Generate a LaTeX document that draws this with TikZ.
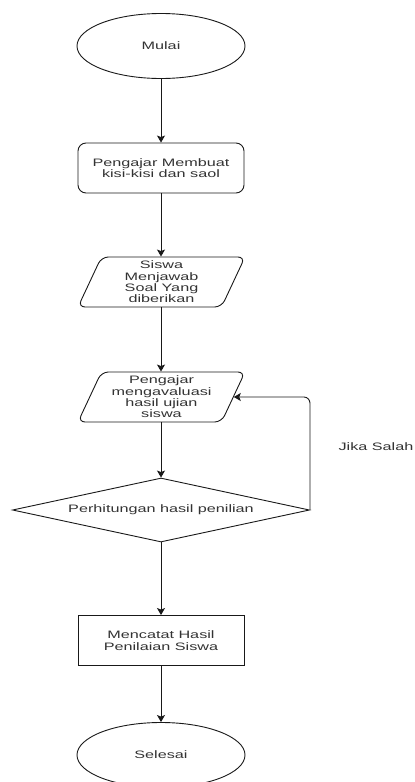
\documentclass[tikz,border=0pt]{standalone}
\usepackage{fontspec}
\setmainfont{Liberation Sans}[FakeStretch=1.5]
\usetikzlibrary{shapes.geometric,arrows.meta}
\definecolor{txt}{HTML}{333333}
\begin{document}
\begin{tikzpicture}[x=1pt,y=1pt,
  every node/.style={font=\fontsize{10.8}{11.3}\selectfont, text=txt, align=center},
  shp/.style={draw=black!90, line width=0.9pt},
  term/.style={shp, ellipse, minimum width=168pt, minimum height=65pt, inner sep=0pt},
  proc/.style={shp, rectangle, minimum width=166pt, minimum height=50pt, inner sep=0pt},
  rproc/.style={proc, rounded corners=8pt},
  io/.style={shp, trapezium, trapezium left angle=60.75, trapezium right angle=119.25,
    trapezium stretches body, minimum width=167pt, minimum height=50pt, inner sep=0pt, rounded corners=7pt},
  dec/.style={shp, diamond, minimum width=297pt, minimum height=64pt, inner sep=0pt, aspect=4.64},
  arr/.style={draw=black!90, line width=0.9pt, -{Stealth[length=7pt,width=8pt,inset=1.5pt]}}
]
\path[use as bounding box, clip] (0,0) rectangle (415,-782);
\node[term] (mulai) at (161,-46) {Mulai};
\node[rproc] (r1) at (161,-168) {Pengajar Membuat\\kisi-kisi dan saol};
\node[io] (p1) at (161.5,-282) {Siswa\\Menjawab\\Soal Yang\\diberikan};
\node[io] (p2) at (161.5,-397) {Pengajar\\mengavaluasi\\hasil ujian\\siswa};
\node[dec] (d) at (161,-510) {};
\node (dt) at (d.center) {Perhitungan hasil penilian};
\node[proc] (r2) at (161,-640.5) {Mencatat Hasil\\Penilaian Siswa};
\node[term] (sel) at (161,-755) {Selesai};
\node (js) at (376,-447) {Jika Salah};
\draw[arr] (mulai) -- (r1);
\draw[arr] (r1) -- (p1.north -| r1.south);
\draw[arr] (p1.south -| r1.south) -- (p2.north -| r1.south);
\draw[arr] (p2.south -| r1.south) -- (d);
\draw[arr] (d) -- (r2);
\draw[arr] (r2) -- (sel);
\draw[arr, rounded corners=6pt] (d.east) -- ++(0,113) -- (p2.east);
\end{tikzpicture}
\end{document}
